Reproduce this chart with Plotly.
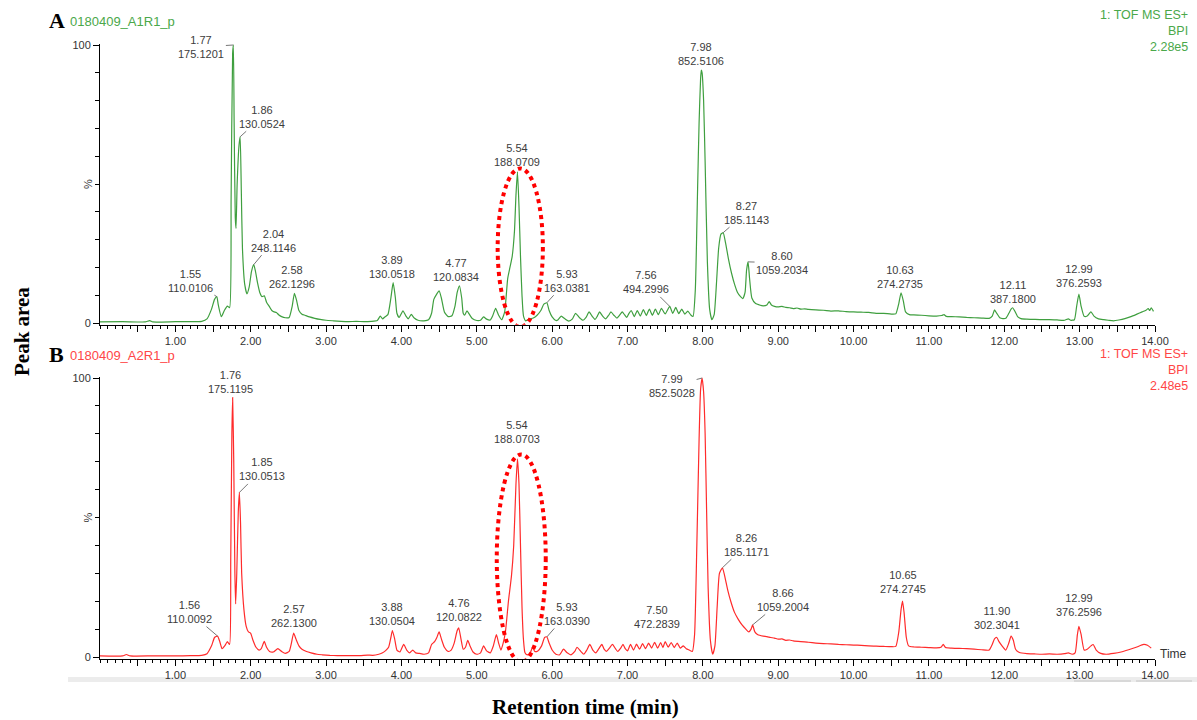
import plotly.graph_objects as go

# ---------------- Sample A: 0180409_A1R1_p (BPI, 2.28e5) ----------------
a_time = [0.00, 0.30, 0.60, 0.66, 0.70, 1.00, 1.20, 1.35, 1.42, 1.48, 1.52, 1.57, 1.61, 1.65, 1.69,
          1.72, 1.74, 1.76, 1.78, 1.795, 1.805, 1.82, 1.845, 1.875, 1.89, 1.92, 1.95, 1.98, 2.01,
          2.06, 2.09, 2.12, 2.15, 2.18, 2.21, 2.25, 2.28, 2.31, 2.34, 2.37, 2.41, 2.46, 2.51, 2.55,
          2.61, 2.64, 2.68, 2.72, 2.78, 2.85, 2.92, 3.00, 3.10, 3.20, 3.30, 3.40, 3.50, 3.60, 3.68,
          3.72, 3.75, 3.78, 3.82, 3.86, 3.92, 3.94, 3.97, 4.02, 4.06, 4.09, 4.13, 4.17, 4.22, 4.30,
          4.36, 4.40, 4.43, 4.47, 4.50, 4.53, 4.57, 4.62, 4.67, 4.71, 4.74, 4.80, 4.82, 4.84, 4.87,
          4.90, 4.94, 5.00, 5.05, 5.09, 5.13, 5.18, 5.21, 5.25, 5.29, 5.33, 5.37, 5.41, 5.44, 5.47,
          5.50, 5.52, 5.56, 5.58, 5.60, 5.62, 5.65, 5.70, 5.75, 5.80, 5.85, 5.89, 5.96, 6.00, 6.05,
          6.08, 6.12, 6.17, 6.22, 6.27, 6.31, 6.36, 6.41, 6.45, 6.49, 6.53, 6.57, 6.60, 6.63, 6.67,
          6.71, 6.75, 6.78, 6.82, 6.86, 6.90, 6.93, 6.96, 6.99, 7.02, 7.05, 7.09, 7.13, 7.17, 7.21,
          7.25, 7.29, 7.33, 7.37, 7.41, 7.45, 7.50, 7.60, 7.64, 7.68, 7.72, 7.76, 7.80, 7.84, 7.87,
          7.90, 7.93, 7.95, 7.97, 7.99, 8.01, 8.03, 8.06, 8.09, 8.12, 8.15, 8.18, 8.21, 8.24, 8.30,
          8.34, 8.38, 8.42, 8.46, 8.50, 8.53, 8.56, 8.58, 8.62, 8.65, 8.70, 8.75, 8.80, 8.85, 8.88,
          8.91, 8.95, 9.00, 9.05, 9.10, 9.15, 9.20, 9.25, 9.30, 9.35, 9.40, 9.50, 9.60, 9.70, 9.80,
          9.90, 10.00, 10.10, 10.20, 10.30, 10.40, 10.50, 10.56, 10.60, 10.66, 10.69, 10.74, 10.80,
          10.90, 11.00, 11.10, 11.17, 11.20, 11.23, 11.30, 11.40, 11.50, 11.60, 11.70, 11.80, 11.84,
          11.87, 11.90, 11.94, 11.98, 12.02, 12.06, 12.09, 12.14, 12.18, 12.22, 12.30, 12.40, 12.50,
          12.60, 12.70, 12.80, 12.85, 12.88, 12.93, 12.96, 13.02, 13.06, 13.10, 13.15, 13.19, 13.25,
          13.32, 13.38, 13.45, 13.52, 13.60, 13.68, 13.76, 13.83, 13.88, 13.91, 13.93, 13.95, 13.98]
a_pct = [0.4, 0.5, 0.4, 0.9, 0.4, 0.5, 0.5, 0.6, 1.5, 5.0, 8.5, 6.5, 2.3, 4.5, 6.1,
         5.5, 45.0, 97.0, 72.0, 38.0, 34.0, 50.0, 64.0, 48.0, 27.0, 14.0, 10.5, 13.0, 18.5,
         19.0, 14.5, 11.0, 9.5, 9.8, 7.5, 5.8, 4.5, 4.0, 3.8, 3.0, 2.3, 1.9, 2.0, 6.0,
         8.0, 4.5, 3.2, 2.8, 2.2, 1.7, 1.3, 1.0, 0.8, 0.6, 0.5, 0.6, 0.5, 0.6, 0.9,
         2.5, 1.5, 2.2, 3.0, 9.0, 9.0, 3.5, 2.0, 4.4, 2.5, 1.5, 3.1, 1.8, 1.0, 0.8,
         1.2, 3.5, 8.5, 10.5, 11.6, 9.0, 4.0, 2.3, 2.6, 6.0, 11.0, 9.0, 3.5, 2.8, 4.4,
         3.2, 1.6, 0.9, 1.0, 2.2, 1.4, 1.1, 2.5, 5.3, 2.8, 1.2, 4.0, 16.0, 20.0, 24.0,
         33.0, 46.0, 42.0, 24.0, 10.0, 2.5, 0.8, 1.5, 1.8, 2.8, 4.5, 6.8, 4.5, 2.2, 0.9,
         1.2, 2.5, 1.5, 0.7, 1.5, 3.5, 2.0, 1.0, 2.0, 4.0, 2.5, 1.3, 2.5, 4.0, 2.5,
         1.5, 2.8, 4.0, 2.8, 1.8, 3.0, 4.0, 3.0, 2.0, 3.5, 4.5, 2.3, 4.5, 2.5, 4.8,
         2.7, 5.0, 2.8, 5.0, 3.0, 5.3, 3.3, 3.5, 5.6, 3.4, 5.0, 3.2, 4.3, 2.9, 2.4,
         12.0, 48.0, 72.0, 88.0, 90.0, 80.0, 58.0, 22.0, 5.0, 1.2, 3.0, 14.0, 27.0, 32.0, 29.0,
         23.0, 18.0, 14.0, 11.0, 9.5, 8.8, 11.0, 19.0, 16.0, 9.0, 7.0, 6.5, 6.2, 6.5, 7.7,
         6.5, 6.0, 5.8, 6.0, 5.6, 5.5, 5.2, 5.4, 5.0, 5.1, 4.9, 4.7, 4.6, 4.3, 4.4,
         4.1, 4.0, 3.9, 3.8, 3.5, 3.5, 3.2, 3.3, 7.0, 8.0, 4.0, 3.0, 2.9,
         2.8, 2.6, 2.5, 2.7, 3.0, 2.4, 2.3, 2.2, 2.0, 1.9, 1.8, 1.7, 2.5,
         4.7, 3.5, 1.9, 1.6, 1.7, 3.5, 5.0, 4.3, 2.2, 1.6, 1.4, 1.3, 1.2,
         1.2, 1.1, 1.0, 1.5, 1.0, 1.2, 6.0, 6.0, 2.4, 2.5, 4.0, 2.5, 1.5,
         1.2, 1.0, 0.8, 1.1, 1.6, 2.3, 3.2, 4.0, 4.6, 5.2, 4.5, 5.5, 4.2]

# labelled peaks of sample A: retention time (min), base-peak m/z, relative height (%)
a_peak_rt = [1.55, 1.77, 1.86, 2.04, 2.58, 3.89, 4.77, 5.54, 5.93, 7.56, 7.98, 8.27, 8.60, 10.63, 12.11, 12.99]
a_peak_mz = ["110.0106", "175.1201", "130.0524", "248.1146", "262.1296", "130.0518", "120.0834",
             "188.0709", "163.0381", "494.2996", "852.5106", "185.1143", "1059.2034", "274.2735",
             "387.1800", "376.2593"]
a_peak_pct = [9.5, 100.0, 67.0, 21.0, 10.7, 14.5, 13.4, 54.4, 7.3, 6.0, 91.0, 32.5, 22.0, 10.9, 5.5, 10.4]

# ---------------- Sample B: 0180409_A2R1_p (BPI, 2.48e5) ----------------
b_time = [0.00, 0.30, 0.35, 0.40, 0.70, 1.00, 1.20, 1.35, 1.42, 1.48, 1.52, 1.59, 1.62, 1.66, 1.69,
          1.72, 1.735, 1.75, 1.775, 1.79, 1.80, 1.815, 1.835, 1.865, 1.88, 1.91, 1.94, 1.97, 2.00,
          2.03, 2.07, 2.11, 2.14, 2.18, 2.21, 2.25, 2.30, 2.36, 2.41, 2.46, 2.51, 2.54, 2.60, 2.64,
          2.68, 2.74, 2.80, 2.88, 2.95, 3.05, 3.15, 3.30, 3.45, 3.55, 3.62, 3.70, 3.75, 3.79, 3.83,
          3.86, 3.91, 3.94, 3.98, 4.03, 4.07, 4.11, 4.15, 4.19, 4.24, 4.30, 4.36, 4.40, 4.44, 4.47,
          4.50, 4.53, 4.57, 4.62, 4.66, 4.70, 4.74, 4.79, 4.82, 4.85, 4.88, 4.91, 4.95, 5.00, 5.05,
          5.09, 5.13, 5.18, 5.22, 5.26, 5.29, 5.32, 5.35, 5.38, 5.42, 5.46, 5.49, 5.52, 5.56, 5.58,
          5.60, 5.62, 5.64, 5.67, 5.71, 5.74, 5.77, 5.81, 5.86, 5.90, 5.96, 6.00, 6.05, 6.10, 6.15,
          6.20, 6.25, 6.30, 6.33, 6.38, 6.42, 6.46, 6.50, 6.54, 6.58, 6.62, 6.66, 6.69, 6.72, 6.76,
          6.80, 6.84, 6.87, 6.91, 6.94, 6.97, 7.00, 7.04, 7.08, 7.12, 7.16, 7.20, 7.24, 7.28, 7.32,
          7.36, 7.40, 7.44, 7.47, 7.54, 7.58, 7.62, 7.66, 7.70, 7.74, 7.78, 7.82, 7.86, 7.89, 7.92,
          7.95, 7.97, 8.01, 8.03, 8.05, 8.07, 8.10, 8.13, 8.16, 8.19, 8.22, 8.29, 8.33, 8.37, 8.42,
          8.47, 8.52, 8.57, 8.61, 8.64, 8.69, 8.73, 8.80, 8.85, 8.90, 8.95, 9.00, 9.05, 9.10, 9.15,
          9.20, 9.30, 9.40, 9.50, 9.60, 9.70, 9.80, 9.90, 10.00, 10.10, 10.20, 10.30, 10.40, 10.50,
          10.56, 10.60, 10.63, 10.67, 10.70, 10.73, 10.80, 10.90, 11.00, 11.10, 11.16, 11.19, 11.22,
          11.30, 11.40, 11.50, 11.60, 11.70, 11.80, 11.84, 11.87, 11.93, 11.97, 12.02, 12.06, 12.09,
          12.12, 12.15, 12.20, 12.30, 12.40, 12.50, 12.60, 12.70, 12.80, 12.85, 12.90, 12.94, 12.97,
          13.02, 13.06, 13.10, 13.15, 13.18, 13.22, 13.28, 13.35, 13.45, 13.55, 13.65, 13.75, 13.85,
          13.90, 13.95]
b_pct = [0.4, 0.4, 0.9, 0.4, 0.4, 0.4, 0.5, 0.6, 1.2, 4.0, 7.0, 5.5, 3.0, 4.2, 5.5,
         4.5, 35.0, 80.0, 70.0, 30.0, 19.0, 30.0, 52.0, 48.0, 30.0, 17.0, 11.0, 9.0, 8.5,
         6.0, 3.5, 2.5, 3.0, 5.6, 3.5, 2.0, 1.8, 3.0, 2.0, 1.3, 2.0, 5.0, 6.5, 4.0,
         2.8, 2.0, 1.5, 1.0, 0.8, 0.6, 0.5, 0.5, 0.5, 0.7, 0.6, 1.0, 1.5, 2.3, 3.5,
         7.0, 6.5, 2.5, 1.8, 4.5, 2.5, 1.5, 2.5, 1.5, 1.3, 1.0, 1.5, 4.5, 5.5, 7.0,
         9.0, 6.5, 3.5, 2.0, 2.5, 5.0, 9.5, 6.5, 2.8, 3.5, 6.0, 4.0, 1.8, 1.0, 1.5,
         4.0, 2.2, 1.5, 4.0, 8.0, 5.0, 2.5, 5.0, 9.0, 20.0, 29.0, 40.0, 62.0, 62.0, 40.0,
         18.0, 6.0, 1.5, 0.8, 1.5, 3.5, 2.0, 2.2, 4.0, 7.0, 5.0, 2.5, 1.0, 0.8, 2.8,
         1.5, 0.8, 2.0, 3.5, 2.0, 1.0, 2.5, 4.5, 2.5, 1.5, 3.0, 4.5, 2.8, 2.0, 3.2,
         4.5, 3.0, 2.0, 3.2, 4.5, 3.0, 2.2, 4.5, 2.5, 4.6, 2.8, 4.8, 3.0, 5.0, 3.2,
         5.3, 3.2, 5.2, 3.4, 3.5, 5.2, 3.4, 5.0, 3.2, 4.0, 3.0, 2.5, 2.0, 8.0, 40.0,
         78.0, 96.0, 95.0, 80.0, 52.0, 25.0, 6.0, 1.0, 4.0, 18.0, 30.0, 29.0, 24.0, 20.0, 16.0,
         13.5, 11.5, 10.0, 9.0, 10.0, 9.0, 8.0, 7.5, 7.3, 7.0, 6.8, 6.4, 6.5, 6.0, 6.1,
         5.8, 5.5, 5.3, 5.0, 4.8, 4.7, 4.5, 4.4, 4.3, 4.2, 4.0, 3.9, 3.8, 3.7,
         3.8, 9.0, 17.0, 16.0, 7.0, 4.0, 3.6, 3.5, 3.4, 3.3, 3.5, 4.5, 3.4,
         3.2, 3.1, 3.0, 2.8, 2.6, 2.5, 4.5, 6.5, 5.5, 4.0, 2.5, 5.0, 7.5,
         6.0, 2.8, 1.6, 1.2, 1.1, 1.0, 1.1, 1.0, 1.2, 1.5, 1.0, 1.5, 8.0,
         8.0, 2.5, 2.8, 4.0, 4.5, 2.5, 1.3, 1.0, 1.3, 1.8, 2.6, 3.5, 4.5,
         4.2, 3.2]

b_peak_rt = [1.56, 1.76, 1.85, 2.57, 3.88, 4.76, 5.54, 5.93, 7.50, 7.99, 8.26, 8.66, 10.65, 11.90, 12.99]
b_peak_mz = ["110.0092", "175.1195", "130.0513", "262.1300", "130.0504", "120.0822", "188.0703",
             "163.0390", "472.2839", "852.5028", "185.1171", "1059.2004", "274.2745", "302.3041",
             "376.2596"]
b_peak_pct = [7.5, 93.0, 59.0, 8.6, 9.5, 10.5, 71.0, 7.2, 5.5, 100.0, 32.0, 11.5, 20.0, 7.0, 11.0]

# axis tick labels (retention time, min)
x_tick_labels = ["1.00", "2.00", "3.00", "4.00", "5.00", "6.00", "7.00",
                 "8.00", "9.00", "10.00", "11.00", "12.00", "13.00", "14.00"]
y_tick_labels = ["0", "100"]

# ---------------- label placement (pixel offsets) ----------------
# peaks whose label sits beside the apex and is tied to it by a short leader line
a_leaders = {1.55: (-26, -16), 1.77: (-32, 2), 1.86: (22, -20), 2.04: (20, -24),
             5.93: (20, -22), 7.56: (-24, -24), 8.27: (23, -20), 8.60: (34, 1)}
b_leaders = {1.56: (-28, -24), 1.85: (23, -23), 5.93: (20, -23), 7.99: (-30, 8),
             8.26: (24, -23), 8.66: (30, -25)}
# peaks whose label sits straight above the apex: (xshift, yshift)
a_above = {2.58: (-2, 1), 3.89: (-1, 1), 4.77: (-3, 1), 5.54: (0, 2), 7.98: (0, 1),
           10.63: (-1, 1), 12.11: (0, 1), 12.99: (0, 3)}
b_above = {1.76: (-2, 1), 2.57: (0, 2), 3.88: (0, 2), 4.76: (0, 3), 5.54: (0, 12),
           7.50: (-8, 10), 10.65: (0, 4), 11.90: (0, 5), 12.99: (0, 6)}

GREEN = "#3f9f3f"
GREEN_TXT = "#4aa84a"
RED = "#ff2b2b"
RED_TXT = "#ff4646"
LABEL = "#3c3c3c"
W, H = 1197, 720


def merge(t, v, pt, pv):
    pts = sorted(zip(list(t) + list(pt), list(v) + list(pv)))
    return [p[0] for p in pts], [p[1] for p in pts]


def px(x):
    return x / W


def py(y):
    return 1 - y / H


fig = go.Figure()

at, av = merge(a_time, a_pct, a_peak_rt, a_peak_pct)
bt, bv = merge(b_time, b_pct, b_peak_rt, b_peak_pct)
fig.add_trace(go.Scatter(x=at, y=av, mode="lines",
                         line=dict(color=GREEN, width=1.2, shape="spline", smoothing=0.5),
                         xaxis="x", yaxis="y", showlegend=False, hoverinfo="skip"))
fig.add_trace(go.Scatter(x=bt, y=bv, mode="lines",
                         line=dict(color=RED, width=1.2, shape="spline", smoothing=0.5),
                         xaxis="x2", yaxis="y2", showlegend=False, hoverinfo="skip"))

x_vals = [float(s) for s in x_tick_labels]
x_major = sorted(x_vals + [v - 0.5 for v in x_vals])
x_text = [x_tick_labels[x_vals.index(v)] if v in x_vals else "" for v in x_major]

xaxis_common = dict(range=[0, 14], showline=True, linecolor="black", linewidth=1,
                    ticks="outside", ticklen=6, tickwidth=1, tickcolor="black",
                    tickvals=x_major, ticktext=x_text, automargin=False,
                    tickfont=dict(family="Arial", size=11, color="#333333"),
                    minor=dict(dtick=0.1, tick0=0, ticks="outside", ticklen=3,
                               tickcolor="black", tickwidth=1),
                    showgrid=False, zeroline=False, domain=[px(100), px(1155)])
yaxis_common = dict(range=[-0.6, 100.4], showline=True, linecolor="black", linewidth=1,
                    ticks="outside", ticklen=6, tickwidth=1, tickcolor="black",
                    tickvals=[float(s) for s in y_tick_labels], ticktext=y_tick_labels,
                    automargin=False,
                    tickfont=dict(family="Arial", size=11, color="#333333"),
                    minor=dict(dtick=10, tick0=0, ticks="outside", ticklen=4,
                               tickcolor="black", tickwidth=1),
                    showgrid=False, zeroline=False)

fig.update_layout(
    width=W, height=H, autosize=False,
    margin=dict(l=0, r=0, t=0, b=0, pad=0),
    paper_bgcolor="white", plot_bgcolor="white",
    xaxis=dict(anchor="y", **xaxis_common),
    yaxis=dict(anchor="x", domain=[py(324.7), py(43.9)], **yaxis_common),
    xaxis2=dict(anchor="y2", **xaxis_common),
    yaxis2=dict(anchor="x2", domain=[py(658.7), py(376.9)], **yaxis_common),
)

ann = []


def peak_labels(rts, mzs, pcts, leaders, above, xr, yr):
    for rt, mz, pc in zip(rts, mzs, pcts):
        text = f"{rt:.2f}<br>{mz}"
        font = dict(family="Arial", size=11, color=LABEL)
        if rt in leaders:
            ax, ay = leaders[rt]
            ann.append(dict(x=rt, y=pc, xref=xr, yref=yr, text=text, font=font,
                            showarrow=True, arrowhead=0, arrowwidth=0.9, arrowcolor="#666666",
                            ax=ax, ay=ay, standoff=0, align="center"))
        else:
            xs, ys = above.get(rt, (0, 1))
            ann.append(dict(x=rt, y=pc, xref=xr, yref=yr, text=text, font=font,
                            showarrow=False, xanchor="center", yanchor="bottom",
                            xshift=xs, yshift=ys, align="center"))


peak_labels(a_peak_rt, a_peak_mz, a_peak_pct, a_leaders, a_above, "x", "y")
peak_labels(b_peak_rt, b_peak_mz, b_peak_pct, b_leaders, b_above, "x2", "y2")

serif = "Liberation Serif, Times New Roman, serif"

# panel headers
for letter, name, color, y_line, y_right, acq in [("A", "0180409_A1R1_p", GREEN_TXT, 20, 15, "2.28e5"),
                                                  ("B", "0180409_A2R1_p", RED_TXT, 354, 354, "2.48e5")]:
    ann.append(dict(x=px(47), y=py(y_line), xref="paper", yref="paper", text=f"<b>{letter}</b>",
                    showarrow=False, xanchor="left", yanchor="middle",
                    font=dict(family=serif, size=22, color="black")))
    ann.append(dict(x=px(68), y=py(y_line + 1), xref="paper", yref="paper", text=name,
                    showarrow=False, xanchor="left", yanchor="middle",
                    font=dict(family="Arial", size=13, color=color)))
    for i, line in enumerate(["1: TOF MS ES+", "BPI", acq]):
        ann.append(dict(x=px(1190), y=py(y_right + 16 * i), xref="paper", yref="paper",
                        text=line, showarrow=False, xanchor="right", yanchor="middle",
                        font=dict(family="Arial", size=12.5, color=color)))

# "%" on each intensity axis
for yr in ["y", "y2"]:
    ann.append(dict(x=px(88), y=50, xref="paper", yref=yr, text="%", textangle=-90,
                    showarrow=False, xanchor="center", yanchor="middle",
                    font=dict(family="Arial", size=11, color="#333333")))

# "Time" at the end of the lower axis
ann.append(dict(x=14, y=0, xref="x2", yref="y2", text="Time", showarrow=False,
                xanchor="left", yanchor="middle", xshift=3, yshift=3,
                font=dict(family="Arial", size=12, color="#333333")))

# shared axis titles
ann.append(dict(x=px(22), y=py(332), xref="paper", yref="paper", text="<b>Peak area</b>",
                textangle=-90, showarrow=False, xanchor="center", yanchor="middle",
                font=dict(family=serif, size=21, color="black")))
ann.append(dict(x=px(585), y=py(707), xref="paper", yref="paper",
                text="<b>Retention time (min)</b>", showarrow=False,
                xanchor="center", yanchor="middle",
                font=dict(family=serif, size=21, color="black")))

fig.update_layout(annotations=ann)

# dotted ellipses around the 5.54 min peak, and the light rules under the lower axis
shapes = [
    dict(type="circle", xref="x", yref="y", x0=5.277, x1=5.877, y0=-1.4, y1=55.6,
         line=dict(color="#ff0000", width=4, dash="4px,4px")),
    dict(type="circle", xref="x2", yref="y2", x0=5.265, x1=5.915, y0=-1.8, y1=72.6,
         line=dict(color="#ff0000", width=4, dash="4px,4px")),
    dict(type="rect", xref="paper", yref="paper", x0=px(68), x1=1.0, y0=py(682), y1=py(677),
         fillcolor="#ececec", line=dict(width=0), layer="below"),
    dict(type="line", xref="paper", yref="paper", x0=px(1074), x1=px(1131), y0=py(681), y1=py(681),
         line=dict(color="#c4c4c4", width=1), layer="below"),
    dict(type="line", xref="paper", yref="paper", x0=px(1136), x1=px(1192), y0=py(681), y1=py(681),
         line=dict(color="#c4c4c4", width=1), layer="below"),
]
fig.update_layout(shapes=shapes)

fig.write_html("out.html")
